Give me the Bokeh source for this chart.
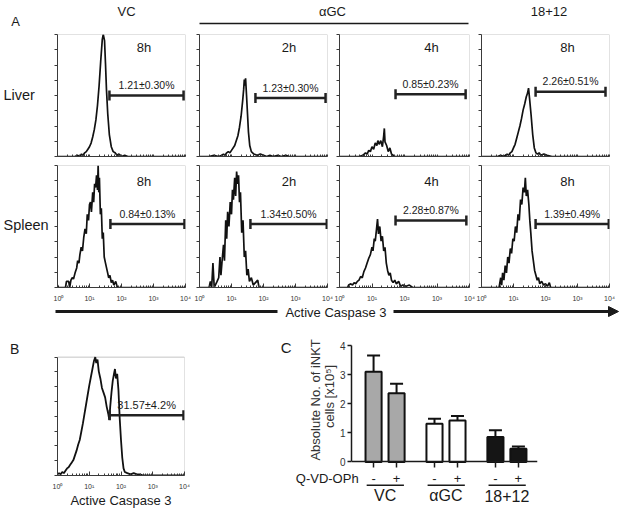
import math
from bokeh.plotting import figure
from bokeh.layouts import row, column
from bokeh.models import (Range1d, FixedTicker, Whisker, TeeHead, Arrow, NormalHead,
                          ColumnDataSource, BoxAnnotation)
from bokeh.embed import file_html
from bokeh.resources import INLINE
from bokeh.core.properties import value

FONT = "Liberation Sans"
INK = "#1a1a1a"

# ---------------- data ----------------
col_headers = ["VC", "αGC", "18+12"]
row_labels = ["Liver", "Spleen"]
time_labels = [["8h", "2h", "4h", "8h"], ["8h", "2h", "4h", "8h"]]
gate_labels = [["1.21±0.30%", "1.23±0.30%", "0.85±0.23%", "2.26±0.51%"],
               ["0.84±0.13%", "1.34±0.50%", "2.28±0.87%", "1.39±0.49%"]]
gate_lo = [[42, 56, 53, 49], [45, 39, 53, 49]]
gate_hi = [[8700, 8700, 7600, 7500], [9300, 9500, 8000, 9500]]
gate_level = [[50, 48, 51, 53], [52, 52, 55, 52]]

# histograms: (log10 intensity, % of panel height)
liver_vc_8h = [(0.0, 0), (0.55, 0), (0.62, 1), (0.70, 0), (0.75, 2), (0.80, 1), (0.85, 3), (0.90, 4),
               (0.95, 6), (1.00, 8), (1.05, 11), (1.10, 16), (1.15, 22), (1.20, 30), (1.25, 42), (1.30, 58),
               (1.35, 78), (1.40, 96), (1.43, 110), (1.47, 95), (1.50, 76), (1.53, 55), (1.57, 35), (1.62, 18),
               (1.68, 8), (1.74, 4), (1.80, 3), (1.86, 1), (1.92, 2), (2.00, 0), (2.10, 1), (2.20, 0), (4.0, 0)]
liver_agc_2h = [(0.0, 0), (0.30, 0), (0.45, 1), (0.60, 0), (0.70, 1), (0.75, 2), (0.80, 1), (0.85, 3),
                (0.90, 4), (0.95, 3), (1.00, 5), (1.10, 9), (1.20, 17), (1.25, 24), (1.30, 33), (1.35, 46),
                (1.38, 55), (1.40, 63), (1.42, 58), (1.44, 64), (1.47, 50), (1.50, 35), (1.53, 20), (1.57, 9),
                (1.62, 4), (1.70, 2), (1.80, 1), (1.90, 2), (2.00, 1), (2.10, 0), (2.20, 1), (2.30, 0),
                (2.45, 1), (2.55, 0), (2.70, 1), (2.80, 0), (4.0, 0)]
liver_agc_4h = [(0.0, 0), (0.60, 0), (0.72, 1), (0.80, 3), (0.85, 2), (0.90, 5), (0.95, 4), (1.00, 8),
                (1.05, 6), (1.10, 11), (1.15, 9), (1.18, 13), (1.22, 10), (1.27, 13), (1.32, 8), (1.36, 17),
                (1.38, 23), (1.40, 12), (1.45, 9), (1.50, 4), (1.55, 7), (1.60, 2), (1.65, 1), (1.70, 0),
                (4.0, 0)]
liver_1812_8h = [(0.0, 0), (0.50, 0), (0.60, 1), (0.70, 0), (0.75, 1), (0.80, 2), (0.85, 1), (0.90, 3),
                 (0.95, 4), (1.00, 7), (1.05, 10), (1.10, 15), (1.15, 20), (1.20, 25), (1.25, 31), (1.30, 38),
                 (1.35, 43), (1.40, 49), (1.44, 52), (1.47, 56), (1.50, 48), (1.55, 34), (1.60, 18), (1.65, 7),
                 (1.70, 3), (1.75, 2), (1.80, 3), (1.85, 1), (1.95, 2), (2.05, 1), (2.20, 0), (4.0, 0)]
spleen_vc_8h = [(0.0, 2), (0.03, 0), (0.25, 0), (0.28, 5), (0.35, 5), (0.38, 0), (0.42, 6), (0.46, 8),
                (0.50, 7), (0.55, 12), (0.60, 16), (0.63, 22), (0.67, 20), (0.70, 27), (0.74, 33), (0.78, 30),
                (0.82, 41), (0.86, 48), (0.90, 44), (0.93, 60), (0.97, 55), (1.00, 68), (1.03, 70), (1.06, 62),
                (1.10, 78), (1.13, 70), (1.16, 85), (1.19, 82), (1.22, 92), (1.25, 80), (1.27, 108), (1.29, 78),
                (1.31, 90), (1.34, 60), (1.37, 65), (1.40, 40), (1.43, 45), (1.46, 25), (1.50, 20), (1.55, 14),
                (1.60, 8), (1.64, 10), (1.68, 4), (1.72, 6), (1.76, 2), (1.82, 5), (1.86, 1), (1.90, 0), (4.0, 0)]
spleen_agc_2h = [(0.0, 0), (0.30, 0), (0.34, 5), (0.38, 0), (0.42, 20), (0.46, 0), (0.55, 5), (0.60, 8),
                 (0.64, 25), (0.67, 10), (0.70, 20), (0.75, 35), (0.78, 22), (0.82, 55), (0.85, 40), (0.88, 62),
                 (0.92, 50), (0.96, 70), (1.00, 60), (1.03, 80), (1.06, 72), (1.10, 90), (1.13, 75), (1.16, 95),
                 (1.19, 85), (1.22, 92), (1.25, 70), (1.28, 78), (1.32, 45), (1.36, 55), (1.40, 25), (1.44, 30),
                 (1.48, 10), (1.52, 15), (1.56, 5), (1.62, 8), (1.68, 2), (1.75, 4), (1.82, 6), (1.86, 0), (4.0, 0)]
spleen_agc_4h = [(0.0, 0), (0.25, 0), (0.28, 2), (0.35, 3), (0.40, 2), (0.45, 4), (0.50, 3), (0.55, 5),
                 (0.60, 6), (0.65, 9), (0.70, 8), (0.75, 13), (0.80, 16), (0.85, 20), (0.90, 24), (0.95, 27),
                 (1.00, 33), (1.03, 30), (1.07, 40), (1.10, 38), (1.14, 48), (1.17, 56), (1.20, 44), (1.24, 50),
                 (1.28, 38), (1.32, 42), (1.36, 30), (1.40, 33), (1.44, 20), (1.48, 14), (1.52, 10), (1.56, 12),
                 (1.60, 6), (1.65, 4), (1.70, 6), (1.75, 3), (1.82, 5), (1.88, 1), (1.95, 2), (2.05, 1),
                 (2.15, 2), (2.25, 0), (4.0, 0)]
spleen_1812_8h = [(0.0, 0), (0.55, 0), (0.60, 8), (0.63, 2), (0.66, 12), (0.70, 6), (0.74, 18), (0.78, 12),
                  (0.82, 25), (0.86, 20), (0.90, 32), (0.94, 28), (0.98, 40), (1.02, 38), (1.06, 50), (1.10, 45),
                  (1.14, 60), (1.18, 55), (1.22, 72), (1.26, 68), (1.30, 82), (1.34, 78), (1.37, 90), (1.40, 75),
                  (1.44, 80), (1.48, 68), (1.51, 55), (1.54, 45), (1.58, 30), (1.62, 22), (1.66, 14), (1.70, 10),
                  (1.74, 6), (1.78, 8), (1.82, 3), (1.88, 5), (1.94, 2), (2.00, 3), (2.06, 1), (2.12, 4),
                  (2.16, 0), (4.0, 0)]
invitro_hist = [(0.0, 1), (0.05, 2), (0.10, 1), (0.15, 3), (0.20, 2), (0.25, 4), (0.30, 6), (0.35, 7),
                (0.40, 9), (0.45, 11), (0.50, 13), (0.55, 17), (0.60, 21), (0.65, 26), (0.70, 30), (0.75, 37),
                (0.80, 44), (0.85, 52), (0.90, 60), (0.95, 68), (1.00, 76), (1.05, 83), (1.10, 90), (1.15, 97),
                (1.19, 101), (1.22, 95), (1.26, 98), (1.30, 88), (1.35, 82), (1.40, 74), (1.45, 70), (1.50, 66),
                (1.55, 58), (1.60, 52), (1.63, 47), (1.66, 58), (1.70, 70), (1.74, 80), (1.78, 86), (1.81, 90),
                (1.84, 82), (1.88, 86), (1.92, 72), (1.96, 48), (2.00, 30), (2.04, 15), (2.08, 6), (2.12, 3),
                (2.20, 2), (2.30, 1), (2.40, 2), (2.50, 1), (2.60, 1), (2.70, 0), (4.0, 0)]
invitro_gate = (44, 9300, 51)
invitro_label = "31.57±4.2%"

histograms = [[liver_vc_8h, liver_agc_2h, liver_agc_4h, liver_1812_8h],
              [spleen_vc_8h, spleen_agc_2h, spleen_agc_4h, spleen_1812_8h]]

# panel C
groups = ["VC", "αGC", "18+12"]
treat = ["-", "+"]
inkt_counts = [3.10, 2.36, 1.31, 1.42, 0.86, 0.45]
inkt_sem = [0.56, 0.33, 0.17, 0.16, 0.23, 0.08]
group_fill = {"VC": "#a8a8a8", "αGC": "#ffffff", "18+12": "#151515"}
c_ylabel = ["Absolute No. of iNKT", "cells [x10⁵]"]

# ---------------- helpers ----------------
DEC = [1, 10, 100, 1000, 10000]
MINOR = [k * 10 ** d for d in range(4) for k in range(2, 10)]
SUP = {1: "10⁰", 10: "10¹", 100: "10²", 1000: "10³", 10000: "10⁴"}
YT = [0, 12.5, 25, 37.5, 50, 62.5, 75, 87.5, 100]
AX = "#3a3a3a"
PX_PER_PCT = 1.22


def txt(p, x, y, s, size, align="center", baseline="middle", level="glyph", color=INK, angle=0):
    p.text(x=[x], y=[y], text=[s], text_font=value(FONT), text_font_size=size,
           text_align=align, text_baseline=baseline, text_color=color, level=level,
           angle=angle)


def blank(w, h):
    p = figure(width=w, height=h, x_range=Range1d(0, w), y_range=Range1d(h, 0),
               toolbar_location=None, output_backend="svg", min_border=0,
               x_axis_location=None, y_axis_location=None)
    p.grid.visible = False
    p.outline_line_color = None
    return p


def hist_fig(data, left, fw, right, fh, bottom, top=0, labels=False, line_w=1.7):
    # frame may be taller than the 100 % box; the box itself is an annotation
    p = figure(width=left + fw + right, height=top + fh + bottom, x_axis_type="log",
               x_range=Range1d(1, 1e4), y_range=Range1d(0, fh / PX_PER_PCT),
               toolbar_location=None, output_backend="svg", min_border_left=left,
               min_border_right=right, min_border_top=top, min_border_bottom=bottom)
    p.grid.visible = False
    p.outline_line_color = None
    p.add_layout(BoxAnnotation(left=1, right=1e4, bottom=0, top=100, fill_alpha=0,
                               line_color=AX, line_width=1, level="overlay"))
    xa = p.xaxis[0]
    if labels:
        xa.ticker = FixedTicker(ticks=DEC, minor_ticks=MINOR)
        xa.major_label_overrides = SUP
        xa.major_label_text_font = FONT
        xa.major_label_text_color = "#333333"
        xa.major_label_text_font_size = "7px"
        xa.major_label_standoff = 7
    else:
        xa.ticker = FixedTicker(ticks=[], minor_ticks=DEC + MINOR)
    xa.major_tick_in, xa.major_tick_out = 4, 0
    xa.minor_tick_in, xa.minor_tick_out = 2, 0
    xa.axis_line_color = AX
    xa.major_tick_line_color = AX
    xa.minor_tick_line_color = AX
    ya = p.yaxis[0]
    ya.ticker = FixedTicker(ticks=[], minor_ticks=YT)
    ya.bounds = (0, 100)
    ya.minor_tick_out, ya.minor_tick_in = 3, 0
    ya.major_label_standoff = 0
    ya.axis_line_color = AX
    ya.minor_tick_line_color = AX
    xs = [10 ** e for e, _ in data]
    ys = [min(v, 100) for _, v in data]
    p.line(xs, ys, line_color="#111111", line_width=line_w)
    return p


def gate(p, lo, hi, lvl, label, size):
    src = ColumnDataSource(dict(base=[lvl], lower=[lo], upper=[hi]))
    p.add_layout(Whisker(source=src, base="base", lower="lower", upper="upper",
                         dimension="width", line_width=2.5, line_color="#222222",
                         lower_head=TeeHead(size=10, line_width=2.5, line_color="#222222"),
                         upper_head=TeeHead(size=10, line_width=2.5, line_color="#222222"),
                         level="overlay"))
    txt(p, (lo * hi) ** 0.5, lvl + 8.5, label, size)


# ---------------- layout (page pixels) ----------------
W = 624
COL_LEFT = [4, 8, 6, 6]
COL_FRAME = [128, 128, 130, 128]
COL_RIGHT = [6, 6, 6, 15]
TIME_X = [2.70, 2.80, 2.83, 2.69]
TIME_Y = [89, 87]
ROW_BOTTOM = [9, 17]

# header
hdr = blank(W, 34)
txt(hdr, 15, 20.5, "A", "13px")
for s, cx in zip(col_headers, [126, 332, 548.5]):
    txt(hdr, cx, 10.5, s, "13px")
hdr.segment(x0=[199], y0=[23], x1=[468], y1=[23], line_color=INK, line_width=1.6)

# row labels
lab = blank(53, 131 + 139)
txt(lab, 3, 60, row_labels[0], "14.5px", align="left")
txt(lab, 3, 190, row_labels[1], "14.5px", align="left")

rows = []
for r in range(2):
    figs = []
    for c in range(4):
        p = hist_fig(histograms[r][c], COL_LEFT[c], COL_FRAME[c], COL_RIGHT[c], 122,
                     ROW_BOTTOM[r], labels=(r == 1))
        txt(p, 10 ** TIME_X[c], TIME_Y[r], time_labels[r][c], "13px")
        gate(p, gate_lo[r][c], gate_hi[r][c], gate_level[r][c], gate_labels[r][c], "10.5px")
        figs.append(p)
    rows.append(row(*figs))
blockA = row(lab, column(*rows))

# arrow strip
arr = blank(W, 18)
arr.segment(x0=[55], y0=[7], x1=[277], y1=[7], line_color=INK, line_width=3)
txt(arr, 335.5, 7.5, "Active Caspase 3", "13px")
arr.add_layout(Arrow(x_start=393, y_start=7, x_end=618, y_end=7, line_width=3, line_color=INK,
                     end=NormalHead(size=10, fill_color=INK, line_color=INK)))

# bottom row: both figures share borders (frames 345..479 on the page)
BOT_H, BOT_TOP, BOT_BOTTOM = 188, 23, 31
FR_H = BOT_H - BOT_TOP - BOT_BOTTOM

# panel B
pb = hist_fig(invitro_hist, 57, 127, 6, FR_H, BOT_BOTTOM, top=BOT_TOP, labels=True, line_w=1.8)
pb.xaxis[0].axis_label = "Active Caspase 3"
pb.xaxis[0].axis_label_text_font = FONT
pb.xaxis[0].axis_label_text_font_size = "13px"
pb.xaxis[0].axis_label_text_font_style = "normal"
pb.xaxis[0].axis_label_text_color = INK
pb.xaxis[0].axis_label_standoff = 0
gate(pb, invitro_gate[0], invitro_gate[1], invitro_gate[2], invitro_label, "11px")
txt(pb, 10 ** (-1.35), 107, "B", "14px", level="overlay")

# panel C
PX_PER_UNIT = 30
xpos = [gi * 265 + si * 100 for gi in range(len(groups)) for si in range(len(treat))]
bar_group = [g for g in groups for _ in treat]
bar_treat = [t for _ in groups for t in treat]
pc = figure(width=W - 190, height=BOT_H, x_range=Range1d(-96, 713),
            y_range=Range1d(4 - FR_H / PX_PER_UNIT, 4),
            toolbar_location=None, output_backend="svg", min_border_left=161,
            min_border_right=87, min_border_top=BOT_TOP, min_border_bottom=BOT_BOTTOM)
pc.grid.visible = False
pc.outline_line_color = None
src = ColumnDataSource(dict(x=xpos, top=inkt_counts,
                            upper=[c + e for c, e in zip(inkt_counts, inkt_sem)],
                            fill=[group_fill[g] for g in bar_group]))
pc.add_layout(Whisker(source=src, base="x", lower="top", upper="upper", dimension="height",
                      line_width=2, line_color="#111111", lower_head=None,
                      upper_head=TeeHead(size=13, line_width=2, line_color="#111111")))
pc.vbar(x="x", top="top", width=70, bottom=0, source=src, fill_color="fill",
        line_color="#111111", line_width=2)
xa = pc.xaxis[0]
xa.fixed_location = 0
xa.ticker = FixedTicker(ticks=[], minor_ticks=xpos)
xa.minor_tick_out, xa.minor_tick_in = 6, 0
xa.axis_line_width = 1.5
xa.minor_tick_line_width = 1.5
xa.axis_line_color = INK
xa.minor_tick_line_color = INK
ya = pc.yaxis[0]
ya.bounds = (0, 4)
ya.ticker = FixedTicker(ticks=[0, 1, 2, 3, 4])
ya.major_tick_out, ya.major_tick_in = 4, 0
ya.minor_tick_line_color = None
ya.axis_line_width = 1.5
ya.major_tick_line_width = 1.5
ya.axis_line_color = INK
ya.major_tick_line_color = INK
ya.major_label_text_font = FONT
ya.major_label_text_font_size = "10px"
ya.major_label_text_color = "#333333"
ya.major_label_standoff = 2

# category labels under the axis, group underlines and names
for x, t in zip(xpos, bar_treat):
    txt(pc, x, -0.57, t, "13px", level="overlay")
for gi, g in enumerate(groups):
    g0 = gi * 265
    pc.segment(x0=[g0 - 30], y0=[-0.8], x1=[g0 + 132], y1=[-0.8], line_color=INK,
               line_width=1.4, level="overlay")
    txt(pc, g0 + 50, -1.17, g, "16px", level="overlay")
txt(pc, -65, -0.57, "Q-VD-OPh", "13px", align="right", level="overlay")
txt(pc, -404, 3.92, "C", "15px", align="left", level="overlay")
# y-axis title (two lines, rotated)
txt(pc, -252, 2.13, c_ylabel[0], "13px", color="#333333", level="overlay", angle=math.pi / 2)
txt(pc, -191, 2.25, c_ylabel[1], "13px", color="#333333", level="overlay", angle=math.pi / 2)

layout = column(hdr, blockA, arr, row(pb, pc))
open("out.html", "w").write(file_html(layout, INLINE))
